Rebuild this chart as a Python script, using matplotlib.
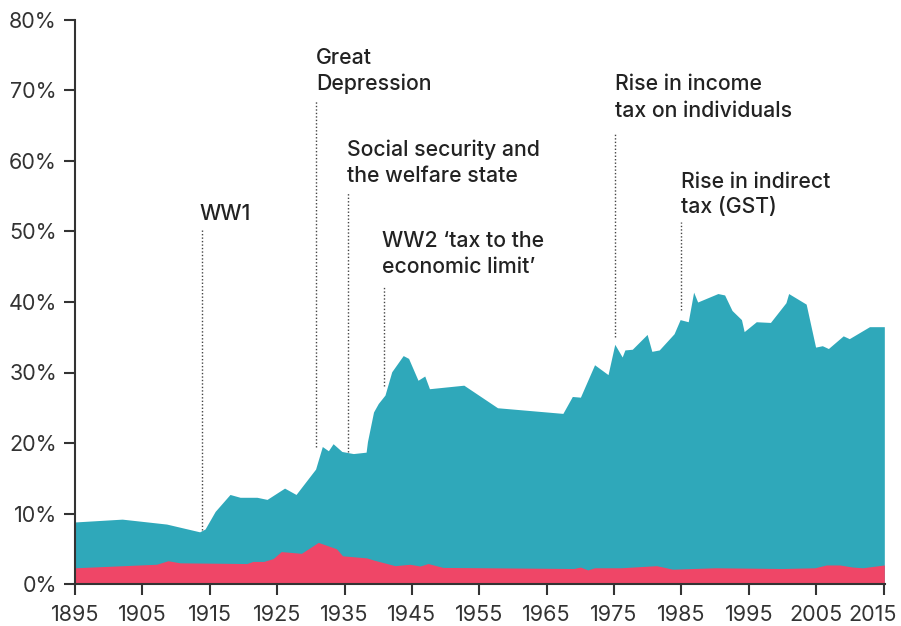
import matplotlib
matplotlib.use("Agg")
import matplotlib.pyplot as plt
from matplotlib.ticker import FuncFormatter
from matplotlib.transforms import ScaledTranslation

plt.rcParams['font.family'] = ['Inter', 'DejaVu Sans']

# total tax take (% of GDP), top of the teal area
total_years = [1895, 1902, 1908.6, 1913.5, 1914.3, 1915.8, 1918, 1919.5, 1922, 1923.5,
               1926.1, 1927.8, 1930.7, 1931.7, 1932.6, 1933.3, 1934.6, 1936.3, 1938.2, 1938.4,
               1939.3, 1940.0, 1941.0, 1942.0, 1943.7, 1944.5, 1945.9, 1946.9, 1947.6, 1952.7,
               1957.7, 1967.4, 1968.8, 1970.0, 1972.1, 1974.1, 1975.1, 1976.2, 1976.6, 1977.7,
               1979.9, 1980.6, 1981.7, 1983.9, 1984.8, 1986.0, 1986.8, 1987.4, 1990.4, 1991.4,
               1992.5, 1993.9, 1994.3, 1996.1, 1998.2, 2000.5, 2000.9, 2003.5, 2004.9, 2005.9,
               2006.8, 2009.0, 2009.9, 2012.9, 2015.1]
total_pct = [8.8, 9.2, 8.5, 7.4, 7.8, 10.3, 12.7, 12.3, 12.3, 12.0,
             13.6, 12.7, 16.3, 19.5, 18.9, 19.9, 18.8, 18.5, 18.7, 20.2,
             24.4, 25.6, 26.8, 30.1, 32.4, 32.0, 28.9, 29.5, 27.7, 28.2,
             25.0, 24.2, 26.6, 26.5, 31.1, 29.7, 34.0, 32.2, 33.2, 33.3,
             35.4, 33.0, 33.2, 35.5, 37.5, 37.2, 41.4, 40.0, 41.2, 41.0,
             38.8, 37.5, 35.8, 37.2, 37.1, 39.9, 41.2, 39.7, 33.6, 33.8,
             33.4, 35.2, 34.8, 36.5, 36.5]

# red band at the bottom
lower_years = [1895, 1907.1, 1908.8, 1910.6, 1920.5, 1921.4, 1923.0, 1924.4, 1925.6, 1928.6,
               1931.1, 1933.8, 1934.7, 1938.3, 1939.3, 1942.5, 1944.7, 1946.2, 1947.4, 1949.6,
               1969.0, 1970.0, 1971.1, 1972.1, 1976.0, 1981.3, 1983.7, 1990.0, 2000.0, 2004.8,
               2006.5, 2008.5, 2010.4, 2011.9, 2015.1]
lower_pct = [2.3, 2.8, 3.3, 3.0, 2.9, 3.2, 3.2, 3.6, 4.6, 4.35,
             5.9, 5.0, 4.0, 3.7, 3.4, 2.6, 2.8, 2.55, 2.9, 2.35,
             2.2, 2.4, 2.0, 2.3, 2.3, 2.6, 2.1, 2.3, 2.2, 2.3,
             2.7, 2.7, 2.4, 2.3, 2.7]

# events: year of the marker, line top, line bottom, label lines
event_years = [1913.84, 1930.75, 1935.5, 1940.8, 1975.1, 1985.0]
event_top = [50.5, 68.7, 55.5, 42.3, 64.0, 51.3]
event_bottom = [7.7, 19.4, 18.7, 28.1, 35.0, 38.9]
event_labels = [["WW1"],
                ["Great", "Depression"],
                ["Social security and", "the welfare state"],
                ["WW2 \u2018tax to the", "economic limit\u2019"],
                ["Rise in income", "tax on individuals"],
                ["Rise in indirect", "tax (GST)"]]
event_text_x = [1913.5, 1930.75, 1935.4, 1940.6, 1975.1, 1985.0]
event_baselines = [[51.6], [73.8, 70.1], [60.7, 57.0], [47.8, 44.1], [70.1, 66.3], [56.1, 52.6]]

TEAL = "#2fa8ba"
RED = "#ef4667"
DARK = "#333333"

fig = plt.figure(figsize=(9.01, 6.26), dpi=100)
ax = fig.add_axes([75 / 901, 42 / 626, 810 / 901, 564 / 626])

ax.fill_between(total_years, 0, total_pct, color=TEAL, lw=0)
ax.fill_between(lower_years, 0, lower_pct, color=RED, lw=0)

for i in range(len(event_years)):
    ax.plot([event_years[i], event_years[i]], [event_bottom[i], event_top[i]],
            color="#444444", lw=1, ls=(0, (1, 1.5)))
    for line, yb in zip(event_labels[i], event_baselines[i]):
        ax.text(event_text_x[i], yb, line, ha="left", va="baseline",
                fontsize=15.3, fontweight="medium", color="#222222")

ax.set_xlim(1895, 2015.2)
ax.set_ylim(0, 80)
ax.set_xticks(range(1895, 2016, 10))
ax.set_yticks(range(0, 81, 10))
ax.yaxis.set_major_formatter(FuncFormatter(lambda v, p: "%d%%" % v))

for s in ["top", "right"]:
    ax.spines[s].set_visible(False)
for s in ["left", "bottom"]:
    ax.spines[s].set_color(DARK)
    ax.spines[s].set_linewidth(1.5)
ax.tick_params(axis="both", direction="out", length=8, width=1.5, color=DARK,
               labelsize=15.5, labelcolor=DARK)
ax.tick_params(axis="x", pad=7)
ax.tick_params(axis="y", pad=5)

# last year label sits a little left so it stays inside the picture
last = ax.get_xticklabels()[-1]
last.set_transform(last.get_transform() + ScaledTranslation(-8 / 72, 0, fig.dpi_scale_trans))

fig.savefig("out.png", dpi=100)
